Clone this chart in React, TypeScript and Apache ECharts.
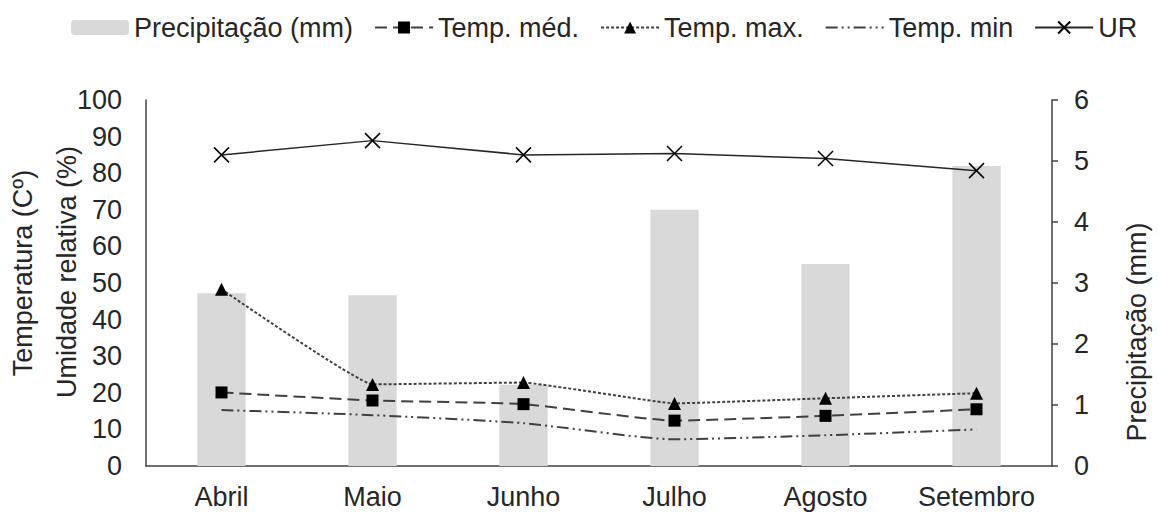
import React, { useEffect, useRef } from "react";
import * as echarts from "echarts";

const months = ["Abril", "Maio", "Junho", "Julho", "Agosto", "Setembro"];
const precipitacao = [2.83, 2.8, 1.33, 4.2, 3.31, 4.92];
const tempMed = [20.1, 17.9, 16.9, 12.4, 13.7, 15.5];
const tempMax = [48.3, 22.3, 22.8, 17.1, 18.5, 19.9];
const tempMin = [15.3, 13.9, 11.7, 7.3, 8.4, 10.0];
const ur = [85.0, 88.9, 85.0, 85.4, 84.0, 80.7];

const FONT = "Liberation Sans, Arial, sans-serif";
const TXT = "#262626";
const FS = 27;

export default function App() {
  const ref = useRef<HTMLDivElement>(null);
  useEffect(() => {
    if (!ref.current) return;
    const chart = echarts.init(ref.current, undefined, { renderer: "svg" });
    const xSym = "path://M0,0L10,10M10,0L0,10";
    chart.setOption({
      animation: false,
      backgroundColor: "#fff",
      textStyle: { fontFamily: FONT, color: TXT },
      legend: {
        top: 9,
        left: 66,
        itemWidth: 58,
        itemHeight: 15,
        itemGap: 21,
        textStyle: { fontSize: FS, color: TXT, fontFamily: FONT },
        data: [
          { name: "Precipitação (mm)" },
          { name: "Temp. méd." },
          { name: "Temp. max." },
          { name: "Temp. min", itemStyle: { color: "rgba(0,0,0,0)", opacity: 0 } },
          { name: "UR" },
        ],
      },
      grid: { left: 146, right: 107, top: 100, bottom: 52 },
      xAxis: {
        type: "category",
        data: months,
        boundaryGap: true,
        axisLine: { lineStyle: { color: "#404040", width: 1.5 } },
        axisTick: { show: false },
        axisLabel: { interval: 0, fontSize: FS, color: TXT, margin: 17, fontFamily: FONT },
      },
      yAxis: [
        {
          type: "value",
          min: 0,
          max: 100,
          interval: 10,
          axisLine: { show: true, lineStyle: { color: "#404040", width: 1.5 } },
          axisTick: { show: false },
          splitLine: { show: false },
          axisLabel: { fontSize: FS, color: TXT, margin: 24, fontFamily: FONT },
        },
        {
          type: "value",
          min: 0,
          max: 6,
          interval: 1,
          position: "right",
          axisLine: { show: true, lineStyle: { color: "#404040", width: 1.5 } },
          axisTick: { show: true, length: 6, lineStyle: { color: "#404040", width: 1.5 } },
          splitLine: { show: false },
          axisLabel: { fontSize: FS, color: TXT, margin: 22, fontFamily: FONT },
        },
      ],
      graphic: [
        {
          type: "text",
          x: 23,
          y: 273,
          rotation: Math.PI / 2,
          style: { text: "Temperatura (Cº)", fontSize: FS, fontFamily: FONT, fill: TXT, align: "center", verticalAlign: "middle" },
        },
        {
          type: "text",
          x: 67,
          y: 272,
          rotation: Math.PI / 2,
          style: { text: "Umidade relativa (%)", fontSize: FS, fontFamily: FONT, fill: TXT, align: "center", verticalAlign: "middle" },
        },
        {
          type: "text",
          x: 1137,
          y: 332,
          rotation: Math.PI / 2,
          style: { text: "Precipitação (mm)", fontSize: FS, fontFamily: FONT, fill: TXT, align: "center", verticalAlign: "middle" },
        },
      ],
      series: [
        {
          name: "Precipitação (mm)",
          type: "bar",
          yAxisIndex: 1,
          data: precipitacao,
          barWidth: "32%",
          itemStyle: { color: "#d9d9d9" },
        },
        {
          name: "Temp. méd.",
          type: "line",
          data: tempMed,
          smooth: 0.15,
          symbol: "rect",
          symbolSize: 12,
          itemStyle: { color: "#000" },
          lineStyle: { color: "#404040", width: 2, type: [12, 6] },
        },
        {
          name: "Temp. max.",
          type: "line",
          data: tempMax,
          smooth: 0.08,
          symbol: "triangle",
          symbolSize: 13,
          itemStyle: { color: "#000" },
          lineStyle: { color: "#404040", width: 2, type: [3, 2] },
        },
        {
          name: "Temp. min",
          type: "line",
          data: tempMin,
          smooth: 0.2,
          symbol: "none",
          itemStyle: { color: "#404040" },
          lineStyle: { color: "#404040", width: 2, type: [12, 4, 2, 4, 2, 4] },
        },
        {
          name: "UR",
          type: "line",
          data: ur,
          symbol: xSym,
          symbolSize: 15,
          itemStyle: { color: "none", borderColor: "#000", borderWidth: 1.5 },
          lineStyle: { color: "#262626", width: 1.5 },
        },
      ],
    });
    return () => chart.dispose();
  }, []);
  return (
    <div
      ref={ref}
      style={{ position: "fixed", left: 0, top: 0, width: 1159, height: 518 }}
    />
  );
}
